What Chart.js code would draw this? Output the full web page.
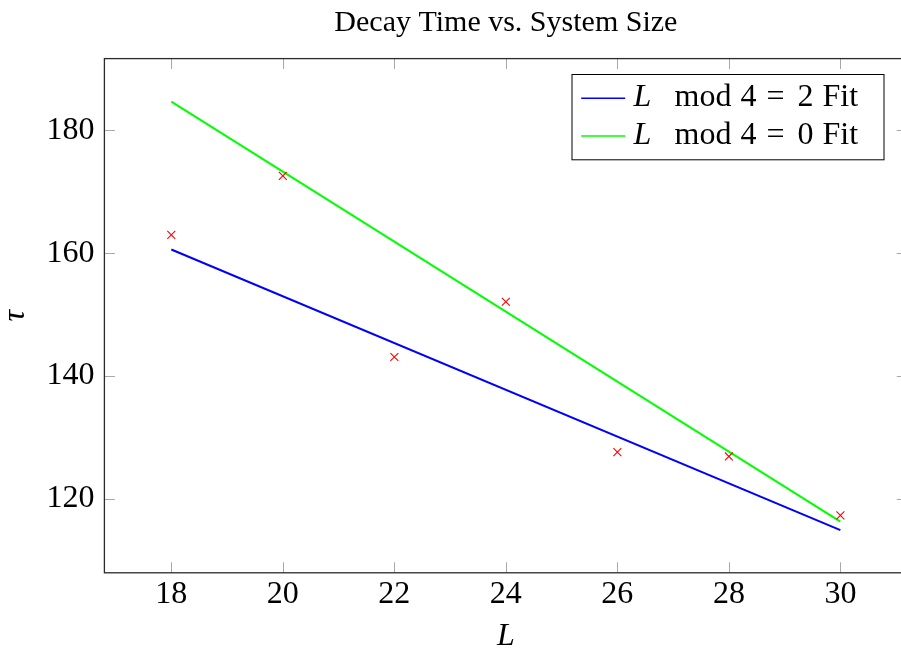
<!DOCTYPE html>
<html lang="en">
<head>
  <meta charset="UTF-8"/>
  <title>Decay Time vs. System Size</title>
  <script src="https://cdn.jsdelivr.net/npm/chart.js"></script>
  <style>
    html, body { margin: 0; padding: 0; background: #fff; overflow: hidden; }
    /* the axis box runs past the right edge of the picture, so the canvas is a bit wider than the window */
    #wrap { width: 901px; height: 658px; overflow: hidden; }
  </style>
</head>
<body>
<div id="wrap"><canvas id="decayChart" width="914" height="658"></canvas></div>

<script>
  // measured decay times
  const sizes = [18, 20, 22, 24, 26, 28, 30];
  const tauValues = [163.0, 172.6, 143.1, 152.1, 127.6, 126.9, 117.3];

  // linear fits, given by their end points
  const fitEnds = [18, 30];
  const fitMod2 = [160.6, 114.9];
  const fitMod0 = [184.7, 116.3];
  const fitResidues = [2, 0];
  const fitColors = ['#0000ff', '#00ff00'];

  const xTicks = [18, 20, 22, 24, 26, 28, 30];
  const yTicks = [120, 140, 160, 180];

  const SERIF = '"Liberation Serif", "Times New Roman", serif';
  Chart.defaults.font.family = SERIF;
  Chart.defaults.color = '#000';

  const toPoints = (xs, ys) => xs.map((x, i) => ({ x: x, y: ys[i] }));

  // pgfplots style box: inward ticks on all four sides
  const framePlugin = {
    id: 'frame',
    beforeDatasetsDraw(chart) {
      const { ctx, chartArea: a, scales: { x, y } } = chart;
      const len = 10.5;
      ctx.save();
      ctx.strokeStyle = '#a8a8a8';
      ctx.lineWidth = 1;
      ctx.beginPath();
      xTicks.forEach(v => {
        const px = Math.round(x.getPixelForValue(v)) + 0.5;
        ctx.moveTo(px, a.bottom); ctx.lineTo(px, a.bottom - len);
        ctx.moveTo(px, a.top);    ctx.lineTo(px, a.top + len);
      });
      yTicks.forEach(v => {
        const py = Math.round(y.getPixelForValue(v)) + 0.5;
        ctx.moveTo(a.left, py);  ctx.lineTo(a.left + len, py);
        ctx.moveTo(a.right, py); ctx.lineTo(a.right - len, py);
      });
      ctx.stroke();
      ctx.restore();
    },
    afterDatasetsDraw(chart) {
      const { ctx, chartArea: a } = chart;
      ctx.save();
      ctx.strokeStyle = '#2a2a2a';
      ctx.lineWidth = 1.3;
      ctx.strokeRect(a.left, a.top, a.right - a.left, a.bottom - a.top);
      ctx.restore();
    }
  };

  // legend box in the upper right corner of the axis
  const legendPlugin = {
    id: 'boxLegend',
    afterDraw(chart) {
      const { ctx, chartArea: a } = chart;
      const left = a.right - 335.8, top = a.top + 15.4;
      const w = 312, h = 85.3, rowGap = 37.7;
      ctx.save();
      ctx.fillStyle = '#fff';
      ctx.fillRect(left, top, w, h);
      ctx.strokeStyle = '#000';
      ctx.lineWidth = 1;
      ctx.strokeRect(left + 0.5, top + 0.5, w, h);

      fitResidues.forEach((r, i) => {
        const ly = top + 24.3 + i * rowGap;
        const base = top + 32 + i * rowGap;
        ctx.strokeStyle = fitColors[i];
        ctx.lineWidth = 1.4;
        ctx.beginPath();
        ctx.moveTo(left + 9.7, ly);
        ctx.lineTo(left + 53.7, ly);
        ctx.stroke();

        ctx.fillStyle = '#000';
        ctx.textBaseline = 'alphabetic';
        ctx.textAlign = 'left';
        ctx.font = 'italic 32px ' + SERIF;
        ctx.fillText('L', left + 62, base);
        ctx.font = '32px ' + SERIF;
        ctx.fillText('mod', left + 103, base);
        ctx.fillText('4', left + 169, base);
        ctx.fillText('=', left + 195, base);
        ctx.fillText(String(r), left + 226, base);
        ctx.fillText('Fit', left + 251, base);
      });
      ctx.restore();
    }
  };

  new Chart(document.getElementById('decayChart'), {
    type: 'scatter',
    data: {
      datasets: [
        {
          label: 'data',
          data: toPoints(sizes, tauValues),
          pointStyle: 'crossRot',
          pointRadius: 5.6,
          pointBorderWidth: 1.1,
          borderColor: '#ff0000',
          backgroundColor: '#ff0000',
          showLine: false
        },
        {
          label: 'L mod 4 = 2 Fit',
          data: toPoints(fitEnds, fitMod2),
          showLine: true,
          borderColor: fitColors[0],
          borderWidth: 2,
          pointRadius: 0
        },
        {
          label: 'L mod 4 = 0 Fit',
          data: toPoints(fitEnds, fitMod0),
          showLine: true,
          borderColor: fitColors[1],
          borderWidth: 2,
          pointRadius: 0
        }
      ]
    },
    options: {
      responsive: false,
      animation: false,
      layout: { padding: { left: 0, top: 0, right: 4, bottom: 0 } },
      scales: {
        x: {
          type: 'linear',
          min: 16.8,
          max: 31.2,
          afterBuildTicks: s => { s.ticks = xTicks.map(v => ({ value: v })); },
          afterFit: s => { s.height = 85.2; },
          grid: { display: false, drawTicks: false },
          border: { display: false },
          ticks: { font: { size: 32 }, padding: 3, maxRotation: 0 },
          title: {
            display: true,
            text: 'L',
            font: { size: 32, style: 'italic', lineHeight: 1 },
            padding: { top: 0, bottom: 5 }
          }
        },
        y: {
          type: 'linear',
          min: 107.95,
          max: 191.7,
          afterBuildTicks: s => { s.ticks = yTicks.map(v => ({ value: v })); },
          afterFit: s => { s.width = 104.4; },
          grid: { display: false, drawTicks: false },
          border: { display: false },
          ticks: { font: { size: 32 }, padding: 10 },
          title: {
            display: true,
            text: 'τ',
            font: { size: 32, style: 'italic', lineHeight: 1 },
            padding: { top: 0, bottom: 0 }
          }
        }
      },
      plugins: {
        legend: { display: false },
        tooltip: { enabled: false },
        title: {
          display: true,
          fullSize: false,
          text: 'Decay Time vs. System Size',
          font: { size: 30, weight: 'normal', lineHeight: 1.2 },
          color: '#000',
          padding: { top: 5, bottom: 17.6 }
        }
      }
    },
    plugins: [framePlugin, legendPlugin]
  });
</script>
</body>
</html>
